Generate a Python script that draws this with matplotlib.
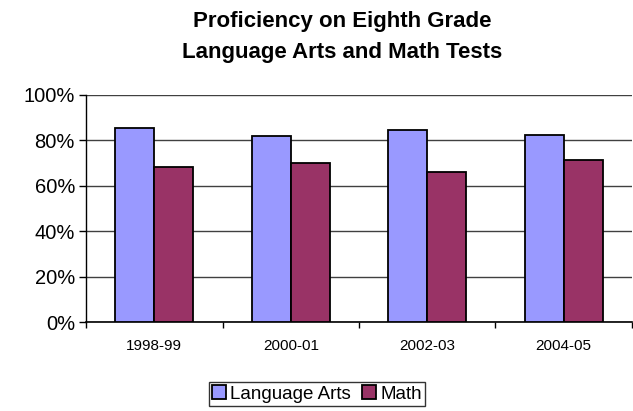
import matplotlib.pyplot as plt
import numpy as np
from matplotlib.ticker import FixedLocator, PercentFormatter

plt.rcParams["font.family"] = ["Liberation Sans", "DejaVu Sans"]

# === Data ===
years = ["1998-99", "2000-01", "2002-03", "2004-05"]
language_arts = [85.3, 82.1, 84.6, 82.5]
math_scores = [68.4, 70.2, 66.1, 71.5]
series_names = ["Language Arts", "Math"]

# === Style ===
LA_COLOR = "#9999FF"
MATH_COLOR = "#993366"
GRID_COLOR = "#404040"
BAR_W = 0.285

fig = plt.figure(figsize=(6.33, 4.11), dpi=100)
ax = fig.add_axes([0.1359, 0.2165, 0.8625, 0.5524])

pos = np.arange(len(years))
ax.bar(pos - BAR_W / 2, language_arts, width=BAR_W, color=LA_COLOR,
       edgecolor="black", linewidth=1.3, label=series_names[0], zorder=3)
ax.bar(pos + BAR_W / 2, math_scores, width=BAR_W, color=MATH_COLOR,
       edgecolor="black", linewidth=1.3, label=series_names[1], zorder=3)

ax.set_xlim(-0.5, len(years) - 0.5)
ax.set_ylim(0, 100)
ax.set_yticks(np.arange(0, 101, 20))
ax.yaxis.set_major_formatter(PercentFormatter(decimals=0))
ax.yaxis.grid(True, color=GRID_COLOR, linewidth=1.0, zorder=0)

ax.set_xticks(pos)
ax.set_xticklabels(years, fontsize=11)
ax.xaxis.set_minor_locator(FixedLocator(np.arange(-0.5, len(years), 1.0)))
ax.tick_params(axis="x", which="major", length=0, pad=12)
ax.tick_params(axis="x", which="minor", length=4, direction="out", width=1)
ax.tick_params(axis="y", labelsize=14.5, length=5, width=1, pad=3)

for side in ["top", "right"]:
    ax.spines[side].set_visible(False)
ax.spines["left"].set_linewidth(1.0)
ax.spines["bottom"].set_linewidth(1.2)

title_lines = ["Proficiency on Eighth Grade", "Language Arts and Math Tests"]
for y_px, line in zip([22, 52], title_lines):
    fig.text(342 / 633, 1 - y_px / 411, line, ha="center", va="center",
             fontsize=16, fontweight="bold")

leg = fig.legend(loc="center", bbox_to_anchor=(317 / 633, 1 - 394 / 411),
                 ncol=2, fontsize=13.5, frameon=True, fancybox=False,
                 edgecolor="black", handlelength=0.75, handleheight=0.75,
                 handletextpad=0.2, columnspacing=0.6, borderpad=0.2,
                 borderaxespad=0)
leg.get_frame().set_linewidth(1.0)

fig.savefig("out.png", dpi=100)
